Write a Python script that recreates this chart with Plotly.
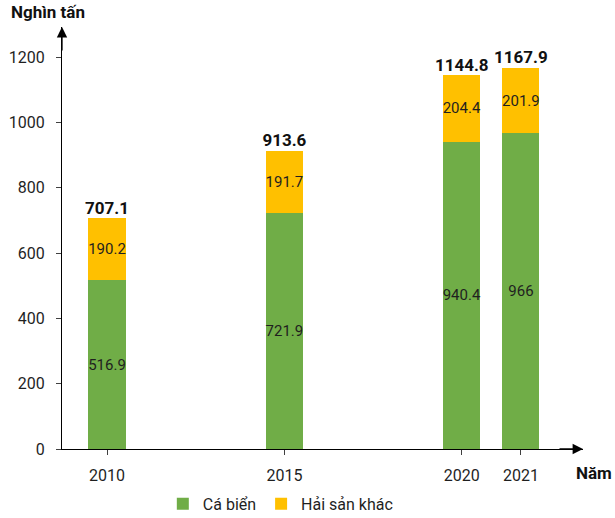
import plotly.graph_objects as go

# ---- data ----
years = ["2010", "2015", "2020", "2021"]
ca_bien = [516.9, 721.9, 940.4, 966]
hai_san_khac = [190.2, 191.7, 204.4, 201.9]
# axis slots (blank slots keep the uneven spacing of the original)
axis_slots = ["2010", " ", "  ", "2015", "   ", "    ", "2020", "2021"]
y_ticks = [0, 200, 400, 600, 800, 1000, 1200]

series_names = ["Cá biển", "Hải sản khác"]
totals = [a + b for a, b in zip(ca_bien, hai_san_khac)]

def fmt(v):
    return f"{v:g}"

FONT = "Roboto, 'Liberation Sans', sans-serif"
TXT = "#1f1f1f"

fig = go.Figure()
fig.add_trace(go.Bar(
    x=years, y=ca_bien, name=series_names[0],
    marker=dict(color="#70AD47", line=dict(width=0)),
    text=[fmt(v) for v in ca_bien], textposition="inside",
    insidetextanchor="middle", textangle=0,
    textfont=dict(family=FONT, size=15, color=TXT),
    hoverinfo="skip",
))
fig.add_trace(go.Bar(
    x=years, y=hai_san_khac, name=series_names[1],
    marker=dict(color="#FFC000", line=dict(width=0)),
    text=[fmt(v) for v in hai_san_khac], textposition="inside",
    insidetextanchor="middle", textangle=0,
    textfont=dict(family=FONT, size=15, color=TXT),
    hoverinfo="skip",
))
fig.add_trace(go.Scatter(
    x=years, y=totals, mode="text",
    text=[f"<b>{fmt(round(t, 1))}</b>" for t in totals],
    textposition="top center",
    textfont=dict(family=FONT, size=17, color="#111111"),
    showlegend=False, hoverinfo="skip", cliponaxis=False,
))

fig.update_layout(
    width=615, height=518,
    margin=dict(l=62, r=32, t=27, b=69, autoexpand=False),
    paper_bgcolor="white", plot_bgcolor="white",
    barmode="stack", bargap=0.374,
    font=dict(family=FONT, size=15, color=TXT),
    uniformtext=dict(minsize=15, mode="show"),
    showlegend=True,
    legend=dict(orientation="h", x=0.42, xanchor="center", y=-0.13, yanchor="middle",
                font=dict(family=FONT, size=16, color=TXT), itemwidth=30,
                traceorder="normal"),
    xaxis=dict(
        type="category", categoryorder="array", categoryarray=axis_slots,
        tickvals=years, ticktext=years,
        range=[-0.761, 8.05], automargin=False,
        showline=True, linecolor="#000000", linewidth=1.3,
        ticks="outside", ticklen=5, tickcolor="#404040", tickwidth=1,
        ticklabelstandoff=7,
        showgrid=False, zeroline=False, fixedrange=True,
        tickfont=dict(family=FONT, size=16, color=TXT),
    ),
    yaxis=dict(
        range=[0, 1292], tickvals=y_ticks, automargin=False,
        showline=True, linecolor="#000000", linewidth=1.3,
        ticks="outside", ticklen=5, tickcolor="#404040", tickwidth=1,
        ticklabelstandoff=8,
        showgrid=False, zeroline=False, fixedrange=True,
        tickfont=dict(family=FONT, size=16, color=TXT),
    ),
    annotations=[
        dict(xref="paper", yref="paper", x=1.0, y=0, ax=-25, ay=0,
             showarrow=True, arrowhead=2, arrowsize=1.6, arrowwidth=1.3,
             arrowcolor="#000000", text=""),
        dict(xref="paper", yref="paper", x=0, y=1.0, ax=0, ay=25,
             showarrow=True, arrowhead=2, arrowsize=1.6, arrowwidth=1.3,
             arrowcolor="#000000", text=""),
        dict(xref="paper", yref="paper", x=-0.1017, y=1.0355, xanchor="left",
             yanchor="middle", showarrow=False, text="<b>Nghìn tấn</b>",
             font=dict(family=FONT, size=17, color="#111111")),
        dict(xref="paper", yref="paper", x=0.982, y=-0.057, xanchor="left",
             yanchor="middle", showarrow=False, text="<b>Năm</b>",
             font=dict(family=FONT, size=17, color="#111111")),
    ],
)

fig.write_html("out.html", config={"displayModeBar": False},
               post_script="document.body.style.margin='0px';document.body.style.overflow='hidden';")
